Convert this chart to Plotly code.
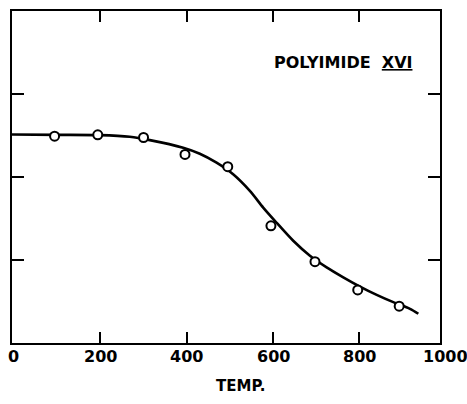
import plotly.graph_objects as go

# measured data points (temperature, relative value)
temp_pts = [94, 194, 300, 396, 495, 595, 697, 796, 892]
val_pts = [62.3, 62.7, 61.9, 56.8, 53.1, 35.3, 24.5, 16.0, 11.1]

# fitted curve
curve_x = [-4.6, 100, 198.6, 268.1, 314.5, 391.7, 430.3, 469.1, 507.5, 546.2, 577.1,
           604.2, 646.6, 685.3, 724.0, 762.5, 801.2, 839.9, 878.3, 917.0, 936.3]
curve_y = [62.8, 62.7, 62.6, 62.1, 61.1, 58.8, 57.0, 54.3, 50.8, 45.8, 40.8,
           36.8, 30.8, 26.3, 22.8, 19.8, 17.0, 14.5, 12.3, 10.3, 8.8]

x_ticks = [0, 200, 400, 600, 800, 1000]
x_tick_marks = [200, 400, 600, 800]
y_tick_marks = [25, 50, 75]

x_range = [-4.6, 986.5]
font_family = "DejaVu Sans"

fig = go.Figure()
fig.add_trace(go.Scatter(x=curve_x, y=curve_y, mode="lines",
                         line=dict(color="black", width=2.6, shape="spline", smoothing=0.8),
                         hoverinfo="skip", showlegend=False))
fig.add_trace(go.Scatter(x=temp_pts, y=val_pts, mode="markers",
                         marker=dict(symbol="circle", size=9, color="white",
                                     line=dict(color="black", width=2)),
                         showlegend=False))

annotations = []
span = x_range[1] - x_range[0]
for t in x_ticks:
    # convert the tick value to paper position along the x-axis scale
    px = (t - x_range[0]) / span
    annotations.append(dict(x=px, y=-0.042, xref="paper", yref="paper", text=f"<b>{t}</b>",
                            showarrow=False, xanchor="center", yanchor="middle",
                            font=dict(family=font_family, size=16, color="black")))
annotations.append(dict(x=0.535, y=-0.13, xref="paper", yref="paper", text="<b>TEMP.</b>",
                        showarrow=False, xanchor="center", yanchor="middle",
                        font=dict(family=font_family, size=15, color="black")))
annotations.append(dict(x=0.607, y=0.845, xref="paper", yref="paper",
                        text="<b>POLYIMIDE  <u>XVI</u></b>",
                        showarrow=False, xanchor="left", yanchor="middle",
                        font=dict(family=font_family, size=16, color="black")))

fig.update_layout(
    width=467, height=404,
    margin=dict(l=12, r=27, t=9, b=61),
    paper_bgcolor="white", plot_bgcolor="white",
    annotations=annotations,
    xaxis=dict(range=x_range, showgrid=False, zeroline=False,
               showline=True, linecolor="black", linewidth=2, mirror="ticks",
               ticks="inside", ticklen=11, tickwidth=2, tickcolor="black",
               tickvals=x_tick_marks, showticklabels=False),
    yaxis=dict(range=[0, 100], showgrid=False, zeroline=False,
               showline=True, linecolor="black", linewidth=2, mirror="ticks",
               ticks="inside", ticklen=12, tickwidth=2, tickcolor="black",
               tickvals=y_tick_marks, showticklabels=False),
)

fig.write_html("out.html")
